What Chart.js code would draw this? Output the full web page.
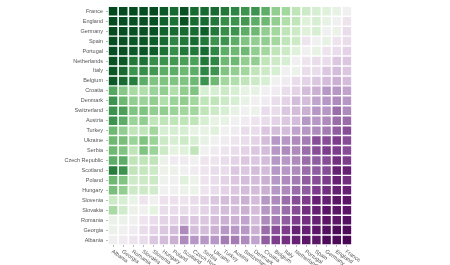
<!DOCTYPE html>
<html>
<head>
<meta charset="utf-8">
<script src="https://cdn.jsdelivr.net/npm/chart.js@4/dist/chart.umd.min.js"></script>
<style>
  html, body { margin: 0; padding: 0; background: #fff; }
  #wrap { width: 450px; height: 265px; }
</style>
</head>
<body>
<div id="wrap"><canvas id="heatChart" width="450" height="265"></canvas></div>
<script>
const ROW_TEAMS = ['France', 'England', 'Germany', 'Spain', 'Portugal', 'Netherlands', 'Italy', 'Belgium',
    'Croatia', 'Denmark', 'Switzerland', 'Austria', 'Turkey', 'Ukraine', 'Serbia', 'Czech Republic',
    'Scotland', 'Poland', 'Hungary', 'Slovenia', 'Slovakia', 'Romania', 'Georgia', 'Albania'];
const COL_TEAMS = ROW_TEAMS.slice().reverse();

// -1 (purple) .. 0 (even) .. 1 (green), one row per team
const SCORES = [
    [0.98, 0.97, 0.97, 0.96, 0.97, 0.92, 0.85, 0.95, 0.85, 0.85, 0.85, 0.8, 0.75, 0.7, 0.7, 0.6, 0.45, 0.4, 0.3, 0.25, 0.2, 0.15, 0.1, 0],
    [0.97, 0.96, 0.95, 0.95, 0.95, 0.88, 0.82, 0.95, 0.85, 0.85, 0.8, 0.72, 0.7, 0.68, 0.6, 0.55, 0.45, 0.35, 0.3, 0.15, 0.2, 0.1, 0, -0.1],
    [0.97, 0.96, 0.95, 0.95, 0.95, 0.88, 0.85, 0.85, 0.85, 0.9, 0.8, 0.72, 0.7, 0.6, 0.55, 0.45, 0.4, 0.3, 0.25, 0.15, 0.2, 0, 0.05, -0.15],
    [0.96, 0.95, 0.93, 0.93, 0.9, 0.85, 0.75, 0.8, 0.85, 0.8, 0.7, 0.7, 0.6, 0.5, 0.45, 0.45, 0.4, 0.3, 0.25, -0.1, 0, 0.1, -0.1, -0.15],
    [0.96, 0.95, 0.92, 0.93, 0.9, 0.82, 0.72, 0.8, 0.8, 0.85, 0.75, 0.6, 0.55, 0.55, 0.45, 0.4, 0.3, 0.25, 0.15, 0, 0.1, -0.1, -0.15, -0.2],
    [0.95, 0.92, 0.8, 0.82, 0.72, 0.7, 0.68, 0.65, 0.65, 0.8, 0.75, 0.55, 0.55, 0.45, 0.45, 0.3, 0.25, 0.2, 0, -0.1, -0.15, -0.15, -0.25, -0.25],
    [0.93, 0.85, 0.7, 0.72, 0.68, 0.6, 0.6, 0.55, 0.6, 0.75, 0.7, 0.5, 0.45, 0.4, 0.3, 0.25, 0.2, 0, 0.05, -0.15, -0.15, -0.25, -0.3, -0.25],
    [0.92, 0.85, 0.78, 0.6, 0.5, 0.5, 0.5, 0.5, 0.55, 0.7, 0.55, 0.4, 0.35, 0.3, 0.25, 0.2, 0, -0.05, -0.15, -0.2, -0.25, -0.3, -0.35, -0.3],
    [0.62, 0.48, 0.38, 0.35, 0.42, 0.45, 0.35, 0.45, 0.5, 0.2, 0.2, 0.25, 0.2, 0.1, 0.1, 0, -0.05, -0.15, -0.2, -0.3, -0.35, -0.45, -0.45, -0.4],
    [0.7, 0.55, 0.45, 0.42, 0.45, 0.35, 0.42, 0.45, 0.4, 0.3, 0.3, 0.25, 0.2, 0.1, 0, -0.05, -0.15, -0.2, -0.3, -0.3, -0.4, -0.45, -0.5, -0.45],
    [0.7, 0.65, 0.5, 0.5, 0.45, 0.45, 0.42, 0.4, 0.4, 0.3, 0.25, 0.2, 0.1, 0, 0.05, -0.15, -0.15, -0.25, -0.3, -0.35, -0.45, -0.45, -0.6, -0.5],
    [0.7, 0.6, 0.42, 0.45, 0.3, 0.3, 0.3, 0.3, 0.3, 0.2, 0.1, 0.1, 0, -0.05, -0.1, -0.15, -0.2, -0.25, -0.3, -0.45, -0.45, -0.5, -0.6, -0.6],
    [0.55, 0.45, 0.3, 0.3, 0.4, 0.2, 0.2, 0.2, 0.1, 0.1, 0.15, 0, -0.05, -0.15, -0.15, -0.25, -0.3, -0.3, -0.4, -0.45, -0.5, -0.55, -0.65, -0.7],
    [0.55, 0.52, 0.42, 0.5, 0.42, 0.25, 0.2, 0.25, 0.2, 0.1, 0, -0.05, -0.1, -0.15, -0.2, -0.3, -0.45, -0.45, -0.5, -0.55, -0.7, -0.7, -0.75, -0.7],
    [0.55, 0.5, 0.3, 0.5, 0.42, 0.25, 0.12, 0.15, 0.3, 0, -0.05, -0.1, -0.15, -0.2, -0.25, -0.3, -0.45, -0.5, -0.5, -0.6, -0.7, -0.75, -0.75, -0.7],
    [0.6, 0.6, 0.3, 0.3, 0.3, 0.05, -0.05, -0.05, 0, -0.1, -0.1, -0.15, -0.2, -0.25, -0.25, -0.3, -0.45, -0.45, -0.5, -0.6, -0.65, -0.7, -0.8, -0.75],
    [0.78, 0.7, 0.3, 0.28, 0.25, 0.05, 0.05, 0, -0.05, -0.1, -0.15, -0.15, -0.25, -0.25, -0.3, -0.3, -0.45, -0.45, -0.5, -0.6, -0.65, -0.7, -0.85, -0.85],
    [0.55, 0.5, 0.25, 0.25, 0.25, 0.02, 0, 0.15, 0.05, -0.1, -0.15, -0.2, -0.25, -0.3, -0.3, -0.35, -0.45, -0.5, -0.55, -0.65, -0.7, -0.75, -0.85, -0.8],
    [0.52, 0.45, 0.25, 0.25, 0.22, 0, 0, 0.05, 0.05, -0.1, -0.15, -0.2, -0.25, -0.3, -0.3, -0.35, -0.45, -0.5, -0.6, -0.65, -0.75, -0.8, -0.85, -0.85],
    [0.25, 0.2, 0.08, -0.1, 0, -0.12, -0.12, -0.1, -0.15, -0.2, -0.25, -0.3, -0.3, -0.35, -0.3, -0.45, -0.5, -0.6, -0.7, -0.75, -0.85, -0.85, -0.9, -0.9],
    [0.38, 0.22, 0.05, 0, 0.12, -0.15, -0.15, -0.15, -0.15, -0.2, -0.25, -0.3, -0.3, -0.35, -0.3, -0.45, -0.5, -0.6, -0.7, -0.8, -0.85, -0.9, -0.9, -0.9],
    [0.05, 0.05, 0, -0.1, -0.15, -0.2, -0.2, -0.25, -0.25, -0.25, -0.3, -0.35, -0.35, -0.4, -0.3, -0.5, -0.55, -0.65, -0.75, -0.8, -0.85, -0.9, -0.9, -0.92],
    [0.05, 0, -0.05, -0.15, -0.2, -0.25, -0.3, -0.5, -0.3, -0.3, -0.35, -0.45, -0.45, -0.45, -0.35, -0.6, -0.7, -0.75, -0.85, -0.85, -0.9, -0.92, -0.95, -0.95],
    [0, -0.05, -0.1, -0.15, -0.25, -0.3, -0.35, -0.5, -0.45, -0.45, -0.45, -0.55, -0.55, -0.5, -0.4, -0.65, -0.75, -0.8, -0.85, -0.9, -0.9, -0.95, -0.95, -0.97]
];

// PRGn, purple -> green
const PRGN = ['40004b', '762a83', '9970ab', 'c2a5cf', 'e7d4e8', 'f7f7f7', 'd9f0d3', 'a6dba0', '5aae61', '1b7837', '00441b'];

function basis(t1, v0, v1, v2, v3) {
    const t2 = t1 * t1, t3 = t2 * t1;
    return ((1 - 3 * t1 + 3 * t2 - t3) * v0 + (4 - 6 * t2 + 3 * t3) * v1
        + (1 + 3 * t1 + 3 * t2 - 3 * t3) * v2 + t3 * v3) / 6;
}

function channel(values, t) {
    const n = values.length - 1;
    let i;
    if (t <= 0) { t = 0; i = 0; } else if (t >= 1) { t = 1; i = n - 1; } else { i = Math.floor(t * n); }
    const v1 = values[i], v2 = values[i + 1];
    const v0 = i > 0 ? values[i - 1] : 2 * v1 - v2;
    const v3 = i < n - 1 ? values[i + 2] : 2 * v2 - v1;
    return Math.round(Math.max(0, Math.min(255, basis((t - i / n) * n, v0, v1, v2, v3))));
}

const rgb = PRGN.map(h => [0, 2, 4].map(k => parseInt(h.substr(k, 2), 16)));

function prgn(v) {
    const t = (v + 1) / 2;
    const c = [0, 1, 2].map(k => channel(rgb.map(p => p[k]), t));
    return `rgb(${c[0]}, ${c[1]}, ${c[2]})`;
}

const cells = [];
ROW_TEAMS.forEach((row, r) => {
    COL_TEAMS.forEach((col, c) => {
        cells.push({ x: col, y: row, v: SCORES[r][c] });
    });
});

const FONT_FAMILY = '"Liberation Sans", sans-serif';

// x labels run down-right from each tick, which Chart.js can't do by itself
const slantedLabels = {
    id: 'slantedLabels',
    afterDraw(chart) {
        const xs = chart.scales.x;
        const ctx = chart.ctx;
        ctx.save();
        ctx.font = '5.5px ' + FONT_FAMILY;
        ctx.fillStyle = '#555';
        ctx.textAlign = 'left';
        ctx.textBaseline = 'middle';
        COL_TEAMS.forEach((name, i) => {
            ctx.save();
            ctx.translate(xs.getPixelForTick(i) - 1, xs.top + 6);
            ctx.rotate(35 * Math.PI / 180);
            ctx.fillText(name, 0, 0);
            ctx.restore();
        });
        ctx.restore();
    }
};

new Chart(document.getElementById('heatChart'), {
    type: 'scatter',
    data: {
        datasets: [{
            data: cells,
            pointStyle: 'rect',
            pointRadius: 6,
            pointBorderWidth: 0,
            backgroundColor: ctx => prgn(ctx.raw.v)
        }]
    },
    options: {
        responsive: false,
        animation: false,
        events: [],
        layout: { padding: { top: 3, right: 98, left: 0, bottom: 0 } },
        plugins: {
            legend: { display: false },
            tooltip: { enabled: false }
        },
        scales: {
            x: {
                type: 'category',
                labels: COL_TEAMS,
                offset: true,
                border: { display: false },
                grid: { drawOnChartArea: false, tickLength: 2, color: '#bbb' },
                ticks: { display: false },
                afterFit: s => { s.height = 20; }
            },
            y: {
                type: 'category',
                labels: ROW_TEAMS,
                offset: true,
                border: { display: false },
                grid: { drawOnChartArea: false, tickLength: 2, color: '#bbb' },
                ticks: { color: '#555', padding: 3, font: { family: FONT_FAMILY, size: 5.5 } },
                afterFit: s => { s.width = 108; }
            }
        }
    },
    plugins: [slantedLabels]
});
</script>
</body>
</html>
